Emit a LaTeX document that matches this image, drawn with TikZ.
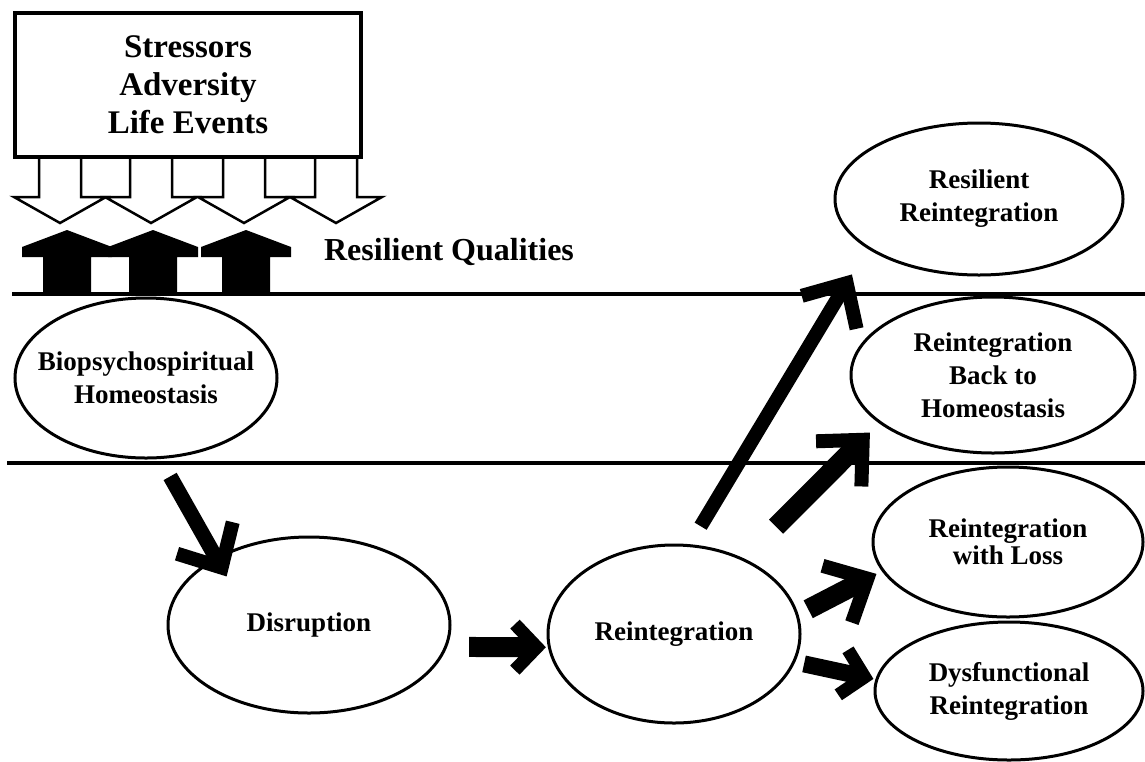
\documentclass[tikz,border=0pt]{standalone}
\usepackage{fontspec}
\setmainfont{Liberation Serif}
\usetikzlibrary{shapes.geometric,arrows.meta}

\tikzset{
  phase/.style={ellipse, draw, line width=3pt, fill=white, inner xsep=-60pt, inner ysep=-20pt,
    align=center, font=\fontsize{27}{33}\selectfont\bfseries},
  rule/.style={line width=3.5pt},
  push/.style={line width=#1, -{Straight Barb[length=34pt,width=64pt,line width=14pt]}},
  nudge/.style={line width=#1, -{Straight Barb[length=22pt,width=46pt,line width=13pt]}},
}

\begin{document}
\begin{tikzpicture}[x=1pt,y=-1pt]
  \useasboundingbox (0,0) rectangle (1145,761);
  \draw[rule] (12,294) -- (1145,294);
  \draw[rule] (7,463) -- (1145,463);

  % stressors pressing down, qualities pushing back
  \foreach \x in {60,151,244,336}
    \draw[line width=2.5pt, fill=white] ({\x-21},157) -- ({\x-21},197) -- ({\x-46},197)
      -- (\x,223) -- ({\x+46},197) -- ({\x+21},197) -- ({\x+21},157) -- cycle;
  \node[draw, line width=4pt, fill=white, minimum width=346pt, minimum height=144pt,
    align=center, font=\fontsize{33}{38}\selectfont\bfseries] (load) at (188,85)
    {Stressors\\Adversity\\Life Events};
  \foreach \x in {67,153,246}
    \fill ({\x-24},293) -- ({\x-24},257) -- ({\x-45},257) -- ({\x-45},247)
      -- (\x,230) -- ({\x+45},247) -- ({\x+45},257) -- ({\x+24},257) -- ({\x+24},293) -- cycle;
  \node[font=\fontsize{32}{38}\selectfont\bfseries] (qual) at (449,252) {Resilient Qualities};

  \node[phase, minimum width=262pt, minimum height=160pt] (bio) at (146,378) {Biopsychospiritual\\Homeostasis};
  \node[phase, minimum width=282pt, minimum height=176pt] (disr) at (309,625) {Disruption};
  \node[phase, minimum width=252pt, minimum height=178pt] (reint) at (674,634) {Reintegration};
  \node[phase, minimum width=288pt, minimum height=152pt] (resil) at (979,199) {Resilient\\Reintegration};
  \node[phase, minimum width=284pt, minimum height=156pt] (home) at (993,375) {Reintegration\\Back to\\Homeostasis};
  \node[phase, minimum width=270pt, minimum height=150pt, font=\fontsize{27}{27}\selectfont\bfseries] (loss) at (1008,542) {Reintegration\\with Loss};
  \node[phase, minimum width=268pt, minimum height=138pt] (dysf) at (1009,691) {Dysfunctional\\Reintegration};

  \draw[push=15pt, shorten <=20pt, shorten >=-22pt] (bio.-80) -- (disr.144);
  \draw[nudge=20pt, shorten <=22pt, shorten >=2pt] (disr.-9) -- (reint.186);
  \draw[push=14pt, shorten <=21pt, shorten >=30pt] (reint.80) -- (resil.204);
  \draw[push=20pt, shorten <=45pt, shorten >=13pt] (reint.47) -- (home.203);
  \draw[push=20pt, shorten <=11pt, shorten >=6pt] (reint.9) -- (loss.193);
  \draw[nudge=17pt, shorten <=9pt, shorten >=2pt] (reint.-13) -- (dysf.175);
\end{tikzpicture}
\end{document}
